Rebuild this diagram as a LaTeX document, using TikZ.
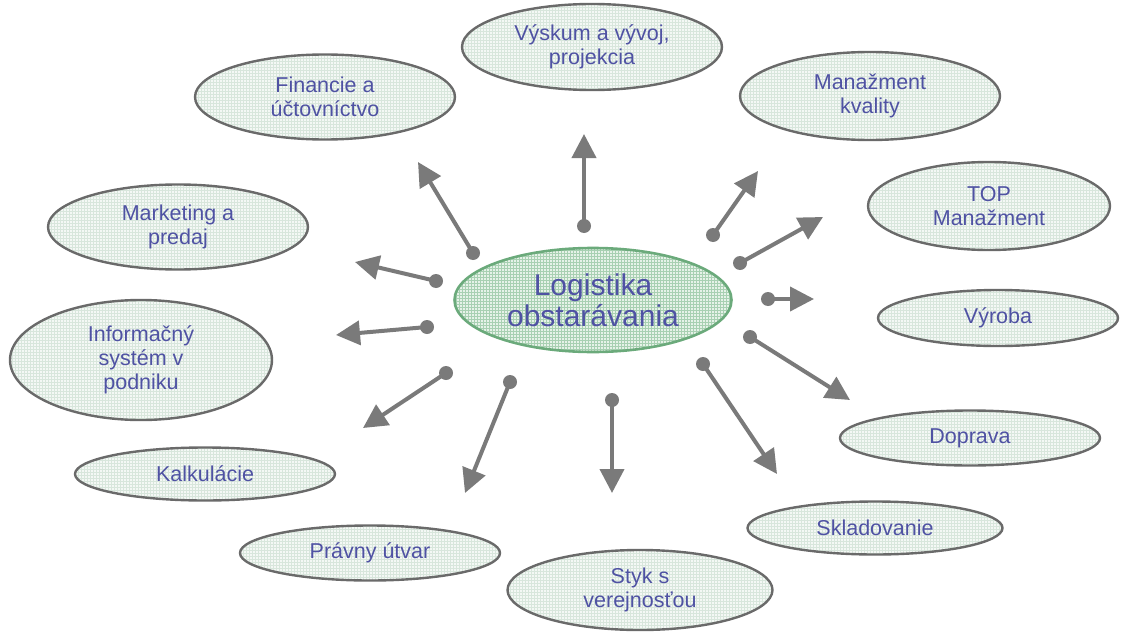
\documentclass[tikz,border=0pt]{standalone}
\usepackage{fontspec}
\setmainfont{Liberation Sans}
\usetikzlibrary{shapes.geometric,arrows.meta,patterns}
\definecolor{txt}{HTML}{4F52A3}
\definecolor{arrc}{HTML}{7A7A7A}
\definecolor{obord}{HTML}{6A6A6A}
\definecolor{ofill}{HTML}{F4F8F5}
\definecolor{ogrid}{HTML}{D8E6DC}
\definecolor{cbord}{HTML}{6BAA7B}
\definecolor{cfill}{HTML}{E6F2E8}
\definecolor{cgrid}{HTML}{A8D0B2}
\tikzset{
  outer/.style={ellipse, draw=obord, line width=2.4pt, inner sep=0pt,
    preaction={fill=ofill}, pattern=grid, pattern color=ogrid,
    text=txt, align=center, font=\fontsize{21.5}{24}\selectfont},
  center/.style={ellipse, draw=cbord, line width=2.6pt, inner sep=0pt,
    preaction={fill=cfill}, pattern=grid, pattern color=cgrid,
    text=txt, align=center, font=\fontsize{30}{31}\selectfont},
  arr/.style={draw=arrc, line width=4pt, -{Triangle[length=24pt,width=24pt]}},
  dot/.style={fill=arrc}
}
\begin{document}
\begin{tikzpicture}[x=1pt,y=-1pt]
\useasboundingbox (0,0) rectangle (1129,634);
% nodes
\node[center, minimum width=277pt, minimum height=104pt] (log) at (593,300) {Logistika\\obstarávania};
\node[outer, minimum width=260pt, minimum height=85pt] (fin) at (325,97) {Financie a\\účtovníctvo};
\node[outer, minimum width=260pt, minimum height=86pt] (vys) at (592,47) {Výskum a vývoj,\\projekcia};
\node[outer, minimum width=260pt, minimum height=88pt] (man) at (870,96) {Manažment\\kvality};
\node[outer, minimum width=242pt, minimum height=88pt] (top) at (989,206) {TOP\\Manažment};
\node[outer, minimum width=240pt, minimum height=56pt] (vyr) at (998,318) {Výroba};
\node[outer, minimum width=260pt, minimum height=55pt] (dop) at (970,438) {Doprava};
\node[outer, minimum width=255pt, minimum height=53pt] (skl) at (875,528) {Skladovanie};
\node[outer, minimum width=265pt, minimum height=80pt] (sty) at (640,590) {Styk s\\verejnosťou};
\node[outer, minimum width=260pt, minimum height=55pt] (pra) at (370,553) {Právny útvar};
\node[outer, minimum width=260pt, minimum height=53pt] (kal) at (205,474) {Kalkulácie};
\node[outer, minimum width=262pt, minimum height=120pt] (inf) at (141,360) {Informačný\\systém v\\podniku};
\node[outer, minimum width=260pt, minimum height=85pt] (mar) at (178,227) {Marketing a\\predaj};
% arrow endpoints
\coordinate (s1) at (473,253); \coordinate (t1) at (418,162);
\coordinate (s2) at (584,226); \coordinate (t2) at (584,134);
\coordinate (s3) at (713,235); \coordinate (t3) at (758,171);
\coordinate (s4) at (740,263); \coordinate (t4) at (823,217);
\coordinate (s5) at (768,299); \coordinate (t5) at (814,299);
\coordinate (s6) at (750,337); \coordinate (t6) at (850,400);
\coordinate (s7) at (703,364); \coordinate (t7) at (777,474);
\coordinate (s8) at (612,400); \coordinate (t8) at (612,493);
\coordinate (s9) at (510,382); \coordinate (t9) at (465,493);
\coordinate (s10) at (446,373); \coordinate (t10) at (363,428);
\coordinate (s11) at (427,327); \coordinate (t11) at (336,335);
\coordinate (s12) at (436,281); \coordinate (t12) at (355,262);
\foreach \i in {1,...,12}{
  \draw[arr] (s\i) -- (t\i);
  \fill[dot] (s\i) circle (7pt);
}
\end{tikzpicture}
\end{document}
